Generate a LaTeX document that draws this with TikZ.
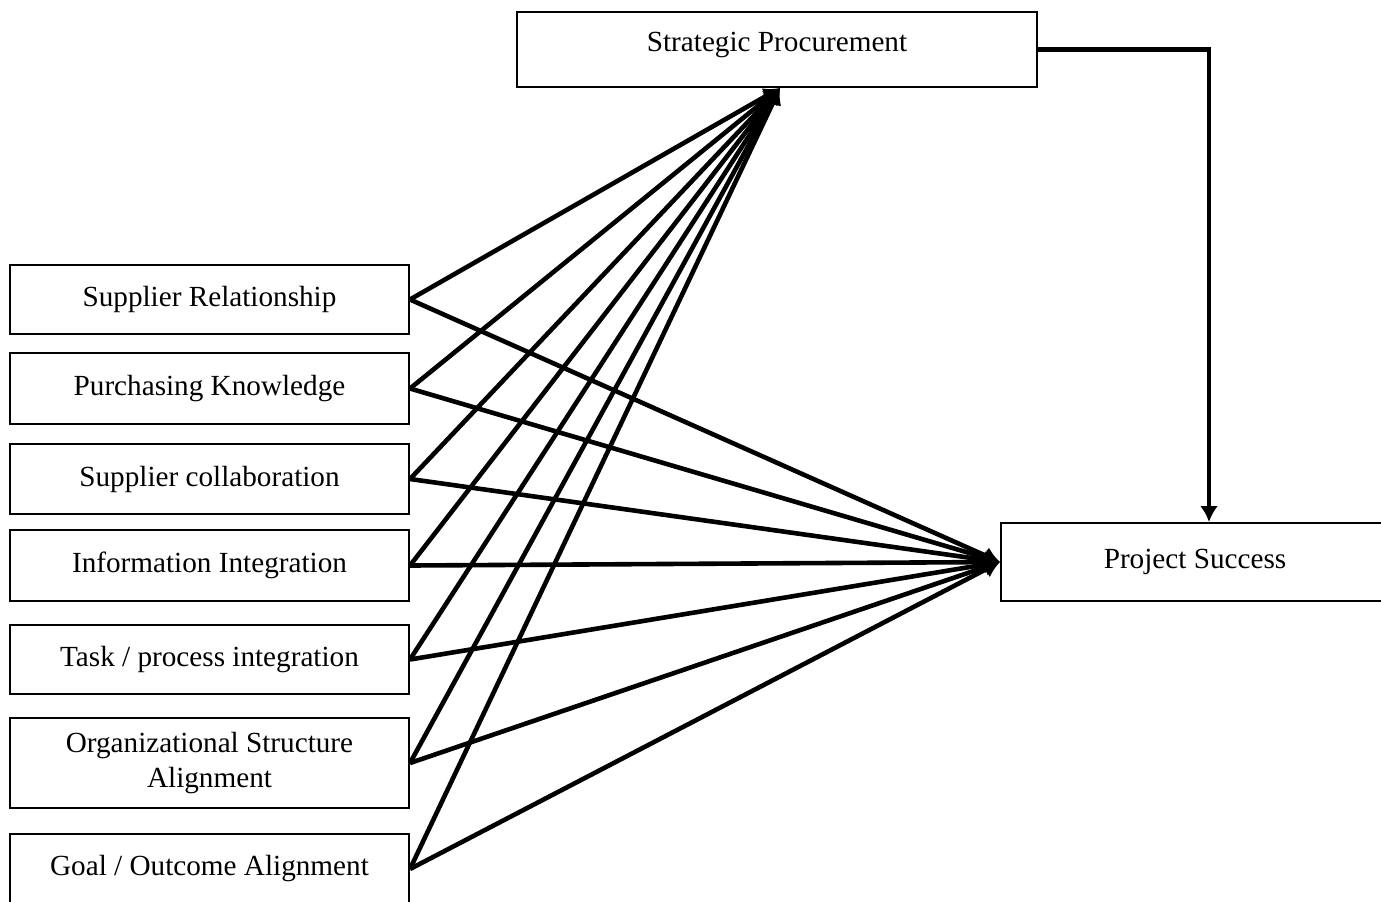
\documentclass[tikz,border=0pt]{standalone}
\usepackage{fontspec}
\setmainfont{Liberation Serif}
\usetikzlibrary{calc,shapes,arrows,arrows.meta}

\tikzset{
  factor/.style={draw, line width=1pt, minimum width=199.5pt, minimum height=35pt,
    inner sep=0pt, align=center, font=\fontsize{14.6}{17.5}\selectfont},
  link/.style={line width=2.3pt, -{Latex[length=8pt,width=9pt]}},
}

\begin{document}
\begin{tikzpicture}[x=0.5pt,y=-0.5pt]
    \useasboundingbox (0,0) rectangle (1381,901);
    % outcome boxes
    \node[factor, minimum width=260pt, minimum height=37.5pt, text height=10pt, text depth=8pt] (sp) at (777,49.5) {Strategic Procurement};
    \node[factor, minimum width=194pt, minimum height=39pt] (ps) at (1195,562) {Project Success};
    % factors
    \node[factor, minimum height=34.5pt] (sr) at (209.5,299.5) {Supplier Relationship};
    \node[factor, minimum height=35.5pt] (pk) at (209.5,388.5) {Purchasing Knowledge};
    \node[factor] (sc) at (209.5,479) {Supplier collaboration};
    \node[factor, minimum height=35.5pt] (ii) at (209.5,565.5) {Information Integration};
    \node[factor, minimum height=34.5pt] (tp) at (209.5,659.5) {Task / process integration};
    \node[factor, minimum height=45pt] (os) at (209.5,763) {Organizational Structure\\Alignment};
    \node[factor] (go) at (209.5,869) {Goal / Outcome Alignment};
    % links
    \foreach \n in {sr,pk,sc,ii,tp,os,go}
    {
        \draw[link] (\n.east) -- ($(sp.south)+(3,0)$);
        \draw[link] (\n.east) -- (ps.west);
    }
    \draw[link] (sp.east) -| ($(ps.north)+(14,0)$);
\end{tikzpicture}
\end{document}
